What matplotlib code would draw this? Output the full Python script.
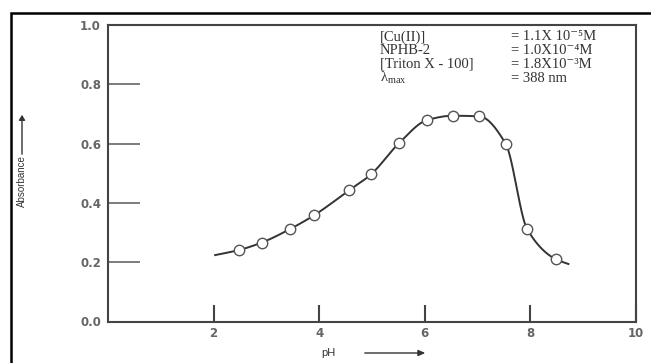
import numpy as np
import matplotlib
matplotlib.use("Agg")
import matplotlib.pyplot as plt
from matplotlib.patches import Rectangle, FancyArrowPatch

# ---- data ----
ph = [2.48, 2.91, 3.45, 3.91, 4.57, 4.98, 5.51, 6.04, 6.53, 7.03, 7.53, 7.94, 8.48]
absorbance = [0.241, 0.266, 0.312, 0.359, 0.443, 0.496, 0.601, 0.679, 0.694, 0.692, 0.600, 0.311, 0.210]
curve_start = (2.03, 0.224)
curve_end = (8.72, 0.194)
xticks = [2, 4, 6, 8, 10]
yticks = [0.0, 0.2, 0.4, 0.6, 0.8, 1.0]
cond_names = ["[Cu(II)]", "NPHB-2", "[Triton X - 100]", "λ$_{\\rm max}$"]
cond_values = ["= 1.1X 10⁻⁵M", "= 1.0X10⁻⁴M", "= 1.8X10⁻³M", "= 388 nm"]


def pchip(xk, yk, xq):
    xk = np.asarray(xk, float); yk = np.asarray(yk, float)
    h = np.diff(xk); d = np.diff(yk) / h
    n = len(xk); m = np.zeros(n)
    for k in range(1, n - 1):
        if d[k - 1] * d[k] > 0:
            w1 = 2 * h[k] + h[k - 1]; w2 = h[k] + 2 * h[k - 1]
            m[k] = (w1 + w2) / (w1 / d[k - 1] + w2 / d[k])
    m[0] = d[0]; m[-1] = d[-1]
    idx = np.clip(np.searchsorted(xk, xq) - 1, 0, n - 2)
    t = (xq - xk[idx]) / h[idx]
    h00 = 2 * t**3 - 3 * t**2 + 1; h10 = t**3 - 2 * t**2 + t
    h01 = -2 * t**3 + 3 * t**2; h11 = t**3 - t**2
    return h00 * yk[idx] + h10 * h[idx] * m[idx] + h01 * yk[idx + 1] + h11 * h[idx] * m[idx + 1]


plt.rcParams['mathtext.fontset'] = 'custom'
plt.rcParams['mathtext.rm'] = 'Liberation Serif'
fig = plt.figure(figsize=(6.51, 3.63), dpi=100)
ax = fig.add_axes([108 / 651, 1 - 321.5 / 363, (636 - 108) / 651, (321.5 - 25) / 363])

nodes_x = [curve_start[0]] + ph + [curve_end[0]]
nodes_y = [curve_start[1]] + absorbance + [curve_end[1]]
xs = np.linspace(nodes_x[0], nodes_x[-1], 600)
ax.plot(xs, pchip(nodes_x, nodes_y, xs), color='#333333', lw=1.4, zorder=2)
ax.plot(ph, absorbance, 'o', ms=7.5, mfc='white', mec='#555555', mew=1.0, zorder=3)

ax.set_xlim(0, 10)
ax.set_ylim(0, 1.0)
for s in ax.spines.values():
    s.set_color('#444444'); s.set_linewidth(1.5)
ax.set_xticks(xticks)
ax.set_yticks(yticks)
ax.set_xticklabels([str(v) for v in xticks])
ax.set_yticklabels([f"{v:.1f}" for v in yticks])
ax.tick_params(axis='x', direction='in', length=12, width=1.5, color='#444444', pad=4)
ax.tick_params(axis='y', direction='in', length=23, width=1.2, color='#666666', pad=5)
for lab in ax.get_xticklabels() + ax.get_yticklabels():
    lab.set_fontfamily('DejaVu Sans'); lab.set_fontsize(8.5)
    lab.set_fontweight('bold'); lab.set_color('#666666')

# condition block
for i, (nm, val) in enumerate(zip(cond_names, cond_values)):
    y = 1 - (37 + i * 13.7) / 363
    fig.text(380 / 651, y, nm, family=['Liberation Serif', 'DejaVu Serif'], fontsize=10.5,
             color='#333333', va='center')
    fig.text(511 / 651, y, val, family=['Liberation Serif', 'DejaVu Serif'], fontsize=10.5,
             color='#333333', va='center')

# axis labels with arrows
fig.text(22 / 651, 1 - 181 / 363, "Absorbance", rotation=90, ha='center', va='center',
         family=['Liberation Sans Narrow', 'Liberation Sans'], fontsize=7, color='#333333')
fig.patches.append(FancyArrowPatch((22 / 651, 1 - 157 / 363), (22 / 651, 1 - 112 / 363),
                                   transform=fig.transFigure, arrowstyle='-|>,head_length=3,head_width=1.8',
                                   color='#333333', lw=1.0))
fig.text(328 / 651, 1 - 353 / 363, "pH", ha='center', va='center',
         family='Liberation Sans', fontsize=8, color='#333333')
fig.patches.append(FancyArrowPatch((362 / 651, 1 - 353 / 363), (428 / 651, 1 - 353 / 363),
                                   transform=fig.transFigure, arrowstyle='-|>,head_length=4,head_width=1.8',
                                   color='#333333', lw=1.0))

# outer frame
fig.patches.append(Rectangle((11 / 651, -0.1), 1.2, 1.1 - 13 / 363, transform=fig.transFigure,
                             fill=False, edgecolor='black', lw=1.8, clip_on=False))

fig.savefig("out.png", dpi=100)
